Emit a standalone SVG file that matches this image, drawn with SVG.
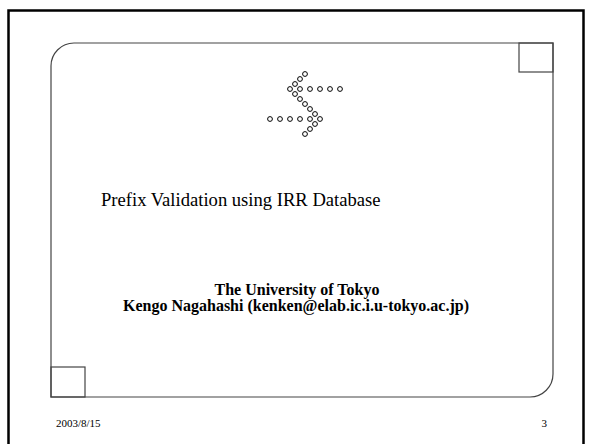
<svg xmlns="http://www.w3.org/2000/svg" width="592" height="444" viewBox="0 0 592 444">
<style>
.dot{fill:none;stroke:#000;stroke-width:1}
.frame{fill:none;stroke:#444;stroke-width:1.2}
.t{font-family:"Liberation Serif","Times New Roman",serif;fill:#000}
</style>
<rect width="592" height="444" fill="#fff"/>
<rect x="8.5" y="10.5" width="575" height="445" fill="none" stroke="#000" stroke-width="2.5"/>
<g id="frame">
<path class="frame" d="M51,397 V66 A23,23 0 0 1 74,43 H553 V374 A23,23 0 0 1 530,397 Z"/>
<rect class="frame" x="519" y="43" width="34" height="29"/>
<rect class="frame" x="51" y="367" width="34" height="30"/>
</g>
<g id="logo">
<circle class="dot" cx="305" cy="74" r="2.4"/>
<circle class="dot" cx="300" cy="79" r="2.4"/>
<circle class="dot" cx="295" cy="84" r="2.4"/>
<circle class="dot" cx="290" cy="89" r="2.4"/>
<circle class="dot" cx="300" cy="89" r="2.4"/>
<circle class="dot" cx="310" cy="89" r="2.4"/>
<circle class="dot" cx="320" cy="89" r="2.4"/>
<circle class="dot" cx="330" cy="89" r="2.4"/>
<circle class="dot" cx="340" cy="89" r="2.4"/>
<circle class="dot" cx="295" cy="94" r="2.4"/>
<circle class="dot" cx="300" cy="99" r="2.4"/>
<circle class="dot" cx="305" cy="104" r="2.4"/>
<circle class="dot" cx="310" cy="109" r="2.4"/>
<circle class="dot" cx="315" cy="114" r="2.4"/>
<circle class="dot" cx="320" cy="119" r="2.4"/>
<circle class="dot" cx="270" cy="119" r="2.4"/>
<circle class="dot" cx="280" cy="119" r="2.4"/>
<circle class="dot" cx="290" cy="119" r="2.4"/>
<circle class="dot" cx="300" cy="119" r="2.4"/>
<circle class="dot" cx="310" cy="119" r="2.4"/>
<circle class="dot" cx="315" cy="124" r="2.4"/>
<circle class="dot" cx="310" cy="129" r="2.4"/>
<circle class="dot" cx="305" cy="134" r="2.4"/>
</g>
<g id="title">
<text class="t" x="101" y="206" font-size="18.6">Prefix Validation using IRR Database</text>
</g>
<g id="author">
<text class="t" x="297" y="295" font-size="16" font-weight="bold" text-anchor="middle">The University of Tokyo</text>
<text class="t" x="296" y="311" font-size="16" font-weight="bold" text-anchor="middle">Kengo Nagahashi (kenken@elab.ic.i.u-tokyo.ac.jp)</text>
</g>
<g id="footer">
<text class="t" x="56" y="427" font-size="11">2003/8/15</text>
<text class="t" x="541.5" y="427" font-size="11">3</text>
</g>
</svg>
